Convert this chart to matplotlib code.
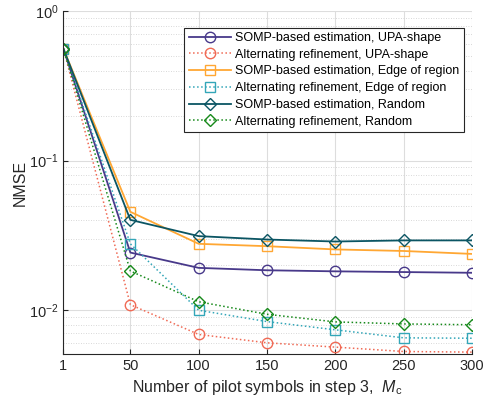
import numpy as np
import matplotlib
matplotlib.use("Agg")
from matplotlib import pyplot as plt

plt.rcParams['font.family'] = ['Liberation Sans', 'DejaVu Sans']
plt.rcParams['mathtext.fontset'] = 'custom'
plt.rcParams['mathtext.it'] = 'Liberation Sans:italic'
plt.rcParams['mathtext.rm'] = 'Liberation Sans'

# pilot symbols
x = [1, 50, 100, 150, 200, 250, 300]

somp_upa = [0.56, 0.0243, 0.0192, 0.0185, 0.0182, 0.0180, 0.0178]
alt_upa = [0.56, 0.0109, 0.00689, 0.00606, 0.00567, 0.0053, 0.00525]
somp_edge = [0.56, 0.0455, 0.0278, 0.0268, 0.0255, 0.0249, 0.0238]
alt_edge = [0.56, 0.0278, 0.0100, 0.0084, 0.0074, 0.00654, 0.0065]
somp_rand = [0.56, 0.0402, 0.0313, 0.0297, 0.0288, 0.0293, 0.0293]
alt_rand = [0.56, 0.0183, 0.0114, 0.0094, 0.00836, 0.0081, 0.0080]

labels = ['SOMP-based estimation, UPA-shape',
          'Alternating refinement, UPA-shape',
          'SOMP-based estimation, Edge of region',
          'Alternating refinement, Edge of region',
          'SOMP-based estimation, Random',
          'Alternating refinement, Random']

fig = plt.figure(figsize=(4.84, 4.03), dpi=100)
ax = fig.add_axes([0.131, 0.1216, 0.844, 0.851])

ms = 7.5
ax.semilogy(x, somp_upa, '-', color='#48398A', marker='o', ms=ms, mfc='none', lw=1.3, label=labels[0])
ax.semilogy(x, alt_upa, ':', color='#F06A55', marker='o', ms=ms, mfc='none', lw=1.1, label=labels[1])
ax.semilogy(x, somp_edge, '-', color='#FFA733', marker='s', ms=7, mfc='none', lw=1.3, label=labels[2])
ax.semilogy(x, alt_edge, ':', color='#33A6B8', marker='s', ms=7, mfc='none', lw=1.1, label=labels[3])
ax.semilogy(x, somp_rand, '-', color='#0B5563', marker='D', ms=6, mfc='none', lw=1.3, label=labels[4])
ax.semilogy(x, alt_rand, ':', color='#16891A', marker='D', ms=6, mfc='none', lw=1.1, label=labels[5])

ax.set_xlim(1, 300)
ax.set_ylim(0.0051, 1)
ax.set_xticks([1, 50, 100, 150, 200, 250, 300])
ax.grid(True, which='major', color='#dddddd', lw=0.8)
ax.grid(True, which='minor', color='#cccccc', lw=0.6, ls=(0, (1, 2)))
ax.tick_params(which='both', direction='in', labelsize=10.5, colors='#262626')
ax.tick_params(which='minor', length=0)
for s in ['top', 'right']:
    ax.spines[s].set_visible(False)
for s in ['left', 'bottom']:
    ax.spines[s].set_color('#262626')

ax.set_xlabel(r'Number of pilot symbols in step 3,  $M_{\rm c}$', fontsize=11.5, color='#262626')
ax.set_ylabel('NMSE', fontsize=11.5, color='#262626', labelpad=1)

leg = ax.legend(loc='upper right', bbox_to_anchor=(0.995, 0.97), fontsize=9.0,
                fancybox=False, framealpha=1, edgecolor='#262626',
                handlelength=3.4, borderpad=0.35, labelspacing=0.38, handletextpad=0.3)
leg.get_frame().set_linewidth(0.8)

fig.savefig('out.png', dpi=100)
